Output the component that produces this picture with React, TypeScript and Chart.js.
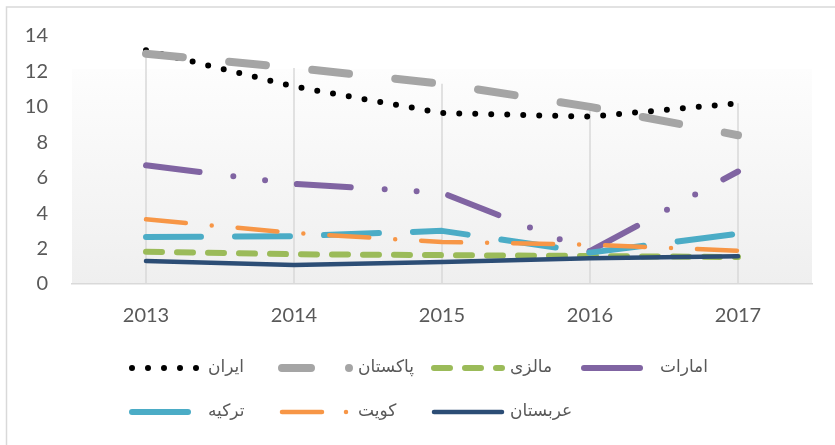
import React, { useEffect, useRef } from "react";
import { Chart, registerables } from "chart.js";

Chart.register(...registerables);

const years = ["2013", "2014", "2015", "2016", "2017"];
const iran = [13.2, 11.15, 9.65, 9.45, 10.2];
const pakistan = [13.0, 12.2, 11.3, 10.0, 8.4];
const malaysia = [1.82, 1.68, 1.63, 1.58, 1.52];
const emirates = [6.7, 5.65, 5.15, 1.85, 6.35];
const turkey = [2.65, 2.7, 3.0, 1.77, 2.84];
const kuwait = [3.65, 2.88, 2.37, 2.22, 1.88];
const saudi = [1.3, 1.07, 1.24, 1.46, 1.57];
const yMin = 0;
const yMax = 14;
const yStep = 2;

const seriesNames = ["ایران", "پاکستان", "مالزی", "امارات", "ترکیه", "کویت", "عربستان"];
const seriesValues = [iran, pakistan, malaysia, emirates, turkey, kuwait, saudi];
const seriesColors = ["#000000", "#A5A5A5", "#9BBB59", "#8064A2", "#4BACC6", "#F79646", "#2C4D75"];
const seriesWidths = [6, 8, 6, 6, 6, 4.5, 4.5];
const seriesDashes = [
  [0, 16],
  [37, 46.5],
  [16, 15],
  [54, 34, 0, 32, 0, 32],
  [55, 34],
  [40, 26, 0, 26],
  [],
];
const legendDashes = [
  [0, 16],
  [29, 38, 0, 100],
  [16, 15],
  [56, 100],
  [56, 100],
  [40, 24, 0, 100],
  [],
];

const TEXT = "#595959";
const GRID = "#D9D9D9";

const legendCols = [130, 280, 432, 582];
const legendRows = [368, 412];

const bgPlugin = {
  id: "bgPlugin",
  beforeDraw(chart: any) {
    const { ctx, chartArea, width, height } = chart;
    ctx.save();
    ctx.fillStyle = "#ffffff";
    ctx.fillRect(0, 0, width, height);
    const top = chartArea.top + 33;
    const g = ctx.createLinearGradient(0, top, 0, chartArea.bottom);
    g.addColorStop(0, "#fdfdfd");
    g.addColorStop(1, "#efefef");
    ctx.fillStyle = g;
    ctx.fillRect(chartArea.left, top, chartArea.right - chartArea.left, chartArea.bottom - top);
    ctx.strokeStyle = GRID;
    ctx.lineWidth = 1.5;
    ctx.beginPath();
    ctx.moveTo(6.5, height);
    ctx.lineTo(6.5, 7);
    ctx.lineTo(width, 7);
    ctx.stroke();
    ctx.restore();
  },
  beforeDatasetsDraw(chart: any) {
    const { ctx, chartArea, scales } = chart;
    const xs = scales.x;
    const ys = scales.y;
    ctx.save();
    ctx.strokeStyle = GRID;
    ctx.lineWidth = 1.5;
    years.forEach((_, i) => {
      let m = -Infinity;
      chart.data.datasets.forEach((d: any) => {
        if (d.data[i] > m) m = d.data[i];
      });
      const x = xs.getPixelForValue(i);
      ctx.beginPath();
      ctx.moveTo(x, chartArea.bottom);
      ctx.lineTo(x, ys.getPixelForValue(m));
      ctx.stroke();
    });
    ctx.restore();
  },
  afterDraw(chart: any) {
    const { ctx } = chart;
    ctx.save();
    chart.data.datasets.forEach((d: any, i: number) => {
      const x = legendCols[i % 4];
      const y = legendRows[Math.floor(i / 4)];
      ctx.strokeStyle = d.borderColor;
      ctx.lineWidth = d.borderWidth;
      ctx.lineCap = "round";
      ctx.setLineDash(legendDashes[i]);
      ctx.beginPath();
      ctx.moveTo(x + 2, y);
      ctx.lineTo(x + 70, y);
      ctx.stroke();
      ctx.setLineDash([]);
      ctx.fillStyle = TEXT;
      ctx.font = "17px 'DejaVu Sans'";
      ctx.textAlign = "left";
      ctx.textBaseline = "middle";
      ctx.fillText(d.label, x + 78, y);
    });
    ctx.restore();
  },
};

export default function App() {
  const ref = useRef<HTMLCanvasElement>(null);
  useEffect(() => {
    if (!ref.current) return;
    const datasets = seriesNames.map((name, i) => ({
      label: name,
      data: seriesValues[i],
      borderColor: seriesColors[i],
      backgroundColor: seriesColors[i],
      borderWidth: seriesWidths[i],
      borderDash: seriesDashes[i],
      borderCapStyle: "round" as const,
      borderJoinStyle: "round" as const,
      pointRadius: 0,
      pointHoverRadius: 0,
      tension: 0,
      fill: false,
      order: seriesNames.length - i,
    }));
    const chart = new Chart(ref.current, {
      type: "line",
      data: { labels: years, datasets },
      options: {
        responsive: false,
        animation: false,
        devicePixelRatio: 1,
        layout: { padding: { left: 25, right: 23, top: 35, bottom: 116 } },
        plugins: { legend: { display: false }, tooltip: { enabled: false } },
        scales: {
          x: {
            offset: true,
            grid: { display: false, drawTicks: false },
            border: { display: true, color: GRID, width: 1.5 },
            ticks: { color: TEXT, font: { family: "Lato", size: 20 }, padding: 20 },
            afterFit: (s: any) => {
              s.height = 45;
            },
          },
          y: {
            min: yMin,
            max: yMax,
            grid: { display: false, drawTicks: false },
            border: { display: false },
            ticks: { stepSize: yStep, color: TEXT, font: { family: "Lato", size: 20 }, padding: 24 },
            afterFit: (s: any) => {
              s.width = 47;
            },
          },
        },
      },
      plugins: [bgPlugin],
    });
    return () => chart.destroy();
  }, []);
  return (
    <div style={{ position: "fixed", left: 0, top: 0, width: 835, height: 445, background: "#fff" }}>
      <canvas ref={ref} width={835} height={445} style={{ display: "block" }} />
    </div>
  );
}
